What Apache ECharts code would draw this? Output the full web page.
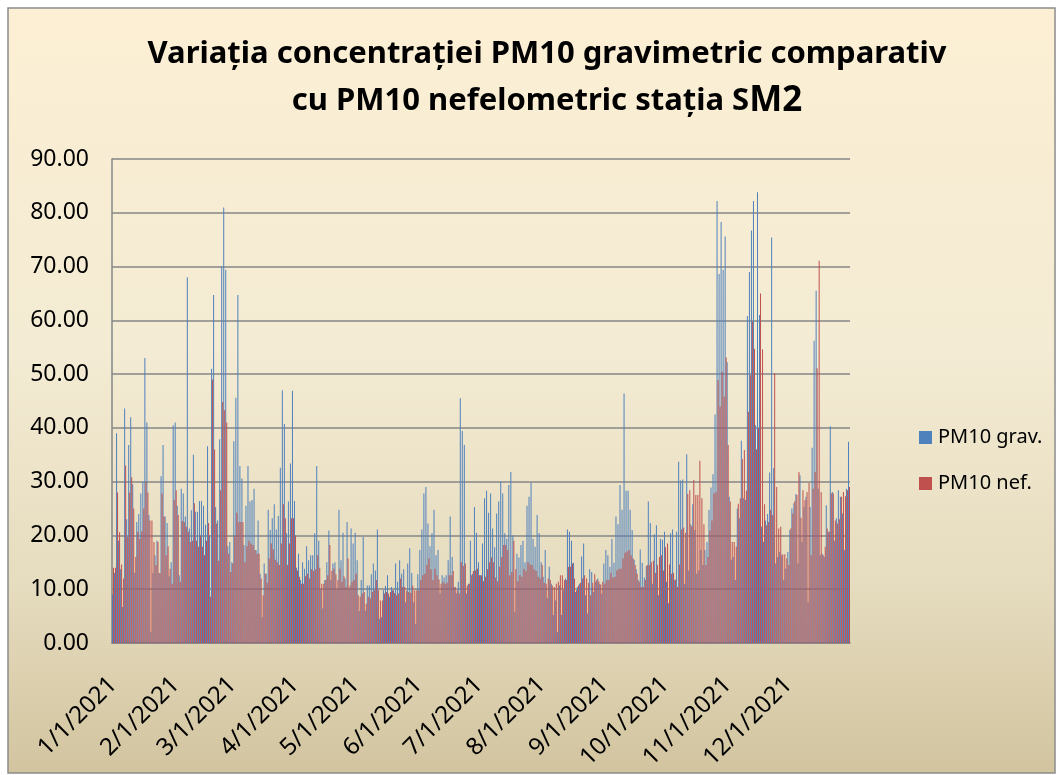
<!DOCTYPE html>
<html>
<head>
<meta charset="utf-8">
<script src="https://cdn.jsdelivr.net/npm/echarts@6/dist/echarts.min.js"></script>
<style>
html,body{margin:0;padding:0;background:#fff;}
#c{width:1062px;height:775px;}
</style>
</head>
<body>
<div id="c"></div>
<script>
// Month lengths for 2021 (used to build the daily category labels)
const monthDays = [31,28,31,30,31,30,31,31,30,31,30,31];
const year = 2021;

// PM10 gravimetric (daily, 1 Jan - 31 Dec 2021)
const pm10Grav = [
  // Jan 1 - Feb 13
  9,13,39,19,13.7,6.7,43.6,23,36.8,42,29.5,13,22.5,24,27.8,30,53,41,23.8,2,13,16.3,19,13,31,36.8,23.5,22.3,12.4,15,40.5,41,25.5,12.6,28.7,27.8,23.5,68,21.3,24.7,35,24.4,24.4,26.4,
  // Feb 14 - Mar 31
  26.4,25.5,22,36.6,20,51,64.7,25.3,22.8,37.9,70,81,69.4,18,18.8,15,37.5,45.6,64.7,32.9,30.6,18.2,25.5,32.9,26.3,26.6,28.7,17.3,22.8,12.9,4.8,14.8,12.9,24.8,21,23.2,25.8,21.1,23.6,32.6,47,40.7,20.4,26.3,33.4,46.9,
  // Apr 1 - May 16
  26.4,14,16.6,11.7,15,13.8,18,15.4,16.3,16.3,20.4,32.9,19,10,6.4,11.7,15,20.9,11.7,14.8,15,10,24.8,15.4,20.5,12,22.5,10.1,21.3,18.5,20.5,15.4,5.9,11.7,19.7,6,10.7,10.7,12.8,14.8,13.5,21.1,4.5,4.8,9.8,10.6,
  // May 17 - Jun 30
  12.6,8.6,10.4,9.8,14.8,11.4,15.4,12.9,13.7,7.6,14.8,17.6,13,7.6,3.6,12.8,17.3,21.1,27.8,29,22.2,18,20.4,24.8,16.3,17.3,9.2,12.6,12.2,12.6,15.4,23.5,16,10.4,9.2,11.4,45.5,39.4,36.8,9.2,11,19,12.9,25.3,20.5,
  // Jul 1 - Aug 14
  15,12.6,18.5,26.9,28.3,24.2,27.8,21.3,17.8,24.1,26.3,30,27.8,20.4,19.4,29.4,31.8,20,5.8,16.6,15.9,18.2,19,15,25.5,27.2,29.8,19.4,17.9,23.8,20.4,15,12.3,17.3,8.3,14.2,11,5.2,7.9,2,10.7,5.2,9.8,12,21.1,
  // Aug 15 - Sep 30
  20.7,19,14.9,9.5,10.4,11,16.1,18.5,8.9,5.5,13.7,13.2,9.5,11.4,12,11,9.2,14.8,17.3,16.3,14.2,19.4,14.9,23.5,22.1,29.4,24.8,46.4,28.3,28.3,24.8,21,15.5,13.7,11.7,17.4,14.9,12.2,14.3,26.3,22.3,11,20.2,21.9,8.9,19.4,19.2,
  // Oct 1 - Nov 14
  20.7,11.4,7.4,20.4,21.1,11.7,20.7,33.7,30.2,30.4,11,35.1,13.5,22.1,25.8,21,12.9,13.5,17.3,14.5,17.3,18.8,24.8,28.9,31.4,42.5,82.2,68.6,78.3,69.4,75.6,52.2,27.2,15.5,16,11.7,25,23.2,37.6,26.9,26.6,60.8,69,76.7,82.2,
  // Nov 15 - Dec 31
  40.5,83.8,61,21.6,18.8,22.8,24,31.7,75.4,32.5,14.8,16,16.9,16.3,11.7,13.8,16.9,21,25,26,27.7,14.8,31.2,18.8,25.3,27.2,7.6,25.3,36.3,56.2,65.5,28.7,16.3,16.6,16,25.6,20.7,40.3,28.1,19,23.2,28.4,27.2,24.1,17.3,28.7,37.4
];

// PM10 nefelometric (daily, 1 Jan - 31 Dec 2021)
const pm10Nef = [
  14,14,28,20.6,14.6,12,33,19.7,28,30.8,25,16,20.7,19.4,20.8,25,30,28,22.8,22.8,18.8,14.5,18.8,13,27.8,23.5,16.3,18,13.8,11,26.6,28.4,23.8,11.4,22.7,22.5,21.6,20.7,18.8,19,26,19,17.9,20,
  17.9,16.3,19,22.3,8.6,49,36,22.2,15.3,28.4,44.8,43.3,41,16.6,13.2,14.8,20,24.2,22.5,22.5,22.5,15,18,19,18.5,18.2,17.3,16.6,16.6,12,8.9,12.9,11.2,15.7,18.5,17.4,15.5,15,14.5,18.5,25.8,23.2,14.5,18.5,23.2,23.2,
  20,13.5,12.3,11,11,12.4,12.9,12,13.7,13.4,13.7,16.3,14,11,11,11.7,12.6,18.2,13.4,13.8,12.8,11.7,13.8,11.4,12.4,10.4,15.7,10.7,11.4,11.7,12.9,8.9,8.6,9.2,9.5,7.3,8.6,8.3,9.5,9.8,11.7,9.8,7.9,7.9,9.2,9.5,
  9.2,9.5,9.8,9.3,8.9,9.2,12,10.4,10.4,9.7,9.5,9.3,10.7,9.8,9.8,9.8,11.7,12.6,12.9,14.5,15.7,13.7,11.7,13.8,12.6,11.8,11,11.4,11,11.2,12.6,12.6,13.4,10.4,9.8,9.2,15,14.3,14.8,10.7,11,12.6,13.4,13.5,13.8,
  12.6,12.6,11.5,12.3,13.7,15,15.9,15,12.2,11.5,14.2,16,18.2,18.2,17.3,12.6,13.2,19,13.7,11.5,12.6,12.3,13.8,13.4,15,14.6,14.5,13.7,13.4,12.3,12,14.5,11.2,11,12,11.7,10.7,10.4,11,11.4,12.6,12.6,11.7,11.7,14.2,
  14.2,14.8,12,9.8,10.7,11.2,12,12.6,12,11.2,8.9,11.2,12.8,11.7,11.5,10.9,11.4,11,11.7,11.7,13,12.2,12.3,13.5,13.8,13.8,15.7,16.8,17,17.3,16.3,15.7,14.5,12.9,11.4,10.4,10.4,11.7,14.5,14.5,15,15.3,13,14.5,16,16.3,13.5,
  17.8,18.5,14.6,12.9,13,11.8,10.4,14.6,21.1,21.5,20.5,27.7,28.4,21.7,30.3,27.5,27.5,33.9,26.9,22.1,14.5,16,20.9,22.8,27.8,28.1,48.9,44,50.5,45.8,53.1,36.8,26.3,18.8,18.8,17.9,25.9,26.9,34.2,35.9,28.3,43,49.8,59.8,54.7,
  36,40,65,54.6,25.8,21.9,22.5,24.8,23.8,50.2,29,21.3,21.6,16.5,16.5,15.7,14.5,21.3,24.1,26.4,27.5,31.8,23.3,28.4,26.6,28.1,29.8,16.3,28.7,31.8,51.1,71.1,28.1,16.3,17.9,21.3,20.7,27.8,27.8,22.8,22.2,23,27.2,28.1,27.3,28.4,29
];

// Y axis tick settings
const yMin = 0, yMax = 90, yStep = 10;

// Category labels M/D/YYYY
const dates = [];
monthDays.forEach((n, m) => { for (let d = 1; d <= n; d++) dates.push((m + 1) + '/' + d + '/' + year); });

const chart = echarts.init(document.getElementById('c'), null, {renderer: 'canvas'});
const FONT = 'Noto Sans';
chart.setOption({
  animation: false,
  backgroundColor: '#ffffff',
  graphic: [{
    type: 'rect', z: -10, silent: true,
    shape: {x: 8, y: 8, width: 1047, height: 765},
    style: {
      fill: new echarts.graphic.LinearGradient(0, 0, 0, 1, [
        {offset: 0, color: '#FCEFD4'},
        {offset: 0.45, color: '#F3EBD3'},
        {offset: 0.75, color: '#E6DCBF'},
        {offset: 1, color: '#D2C49F'}
      ]),
      stroke: '#8C8C8C', lineWidth: 1.5
    }
  }],
  title: {
    text: 'Variația concentrației PM10 gravimetric comparativ\ncu PM10 nefelometric stația S{b|M2}',
    left: 542, top: 26, textAlign: 'center',
    textStyle: {
      fontFamily: FONT, fontWeight: 'bold', fontSize: 31, color: '#000', lineHeight: 47,
      rich: { b: {fontFamily: FONT, fontWeight: 'bold', fontSize: 35, color: '#000', lineHeight: 47} }
    }
  },
  legend: {
    orient: 'vertical', left: 914, top: 422,
    itemWidth: 13, itemHeight: 13, itemGap: 25,
    icon: 'rect',
    textStyle: {fontFamily: FONT, fontSize: 20, color: '#000', lineHeight: 21, padding: [0,0,0,1]},
    data: ['PM10 grav.', 'PM10 nef.']
  },
  grid: {left: 112, right: 212, top: 159, bottom: 132, containLabel: false},
  xAxis: {
    type: 'category', data: dates,
    axisLine: {lineStyle: {color: '#868686', width: 1.5}},
    axisTick: {show: false},
    axisLabel: {
      interval: (i, v) => v.split('/')[1] === '1',
      rotate: 45, margin: 38, color: '#000',
      fontFamily: FONT, fontSize: 24
    },
    splitLine: {show: false}
  },
  yAxis: {
    type: 'value', min: yMin, max: yMax, interval: yStep,
    axisLine: {show: true, lineStyle: {color: '#868686', width: 1.5}},
    axisTick: {show: false},
    axisLabel: {formatter: v => v.toFixed(2), color: '#000', fontFamily: FONT, fontSize: 23, margin: 23},
    splitLine: {lineStyle: {color: '#868686', width: 1.6}}
  },
  series: [
    {name: 'PM10 grav.', type: 'bar', data: pm10Grav, itemStyle: {color: '#4F81BD'}, barGap: '0%', barCategoryGap: '12%'},
    {name: 'PM10 nef.', type: 'bar', data: pm10Nef, itemStyle: {color: '#C0504D'}, barGap: '0%', barCategoryGap: '12%'}
  ]
});
</script>
</body>
</html>
